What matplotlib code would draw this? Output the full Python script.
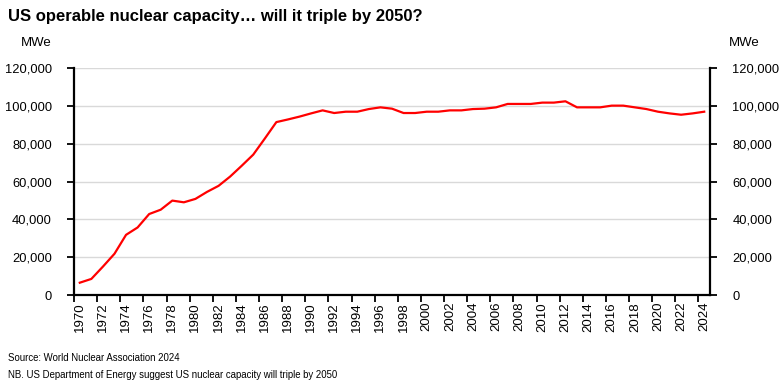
import matplotlib
matplotlib.use("Agg")
import matplotlib.pyplot as plt
from matplotlib.ticker import FixedLocator, FuncFormatter

years = list(range(1970, 2025))
capacity_mwe = [
    6500, 8500, 15000, 21800, 31800, 35700, 42800, 45100, 49900, 49000,
    50800, 54500, 57700, 62600, 68300, 74200, 82700, 91400, 92800, 94300,
    96000, 97600, 96200, 96900, 96900, 98300, 99200, 98500, 96200, 96200,
    96900, 96900, 97600, 97600, 98300, 98500, 99200, 101000, 101000, 101000,
    101700, 101700, 102400, 99200, 99200, 99200, 100100, 100100, 99200, 98300,
    96900, 96000, 95300, 96000, 96900,
]
y_ticks = [0, 20000, 40000, 60000, 80000, 100000, 120000]
x_labels = [str(y) for y in range(1970, 2025, 2)]

title = "US operable nuclear capacity\u2026 will it triple by 2050?"
unit = "MWe"
notes = ["Source: World Nuclear Association 2024",
         "NB. US Department of Energy suggest US nuclear capacity will triple by 2050"]

plt.rcParams["font.family"] = ["Liberation Sans", "DejaVu Sans"]

fig = plt.figure(figsize=(7.82, 3.88), dpi=100)
ax = fig.add_axes([74 / 782, 1 - 295 / 388, (710 - 74) / 782, (295 - 68) / 388])

ax.plot(years, capacity_mwe, color="#ff0000", lw=1.6, solid_joinstyle="round")

ax.set_xlim(1969.5, 2024.5)
ax.set_ylim(0, 120000)

ax.yaxis.set_major_locator(FixedLocator(y_ticks))
ax.yaxis.set_major_formatter(FuncFormatter(lambda v, p: f"{int(v):,}"))
ax.grid(axis="y", color="#d9d9d9", lw=1.0)
ax.set_axisbelow(True)

# x: ticks at category boundaries, labels at even years
ax.xaxis.set_major_locator(FixedLocator([1969.5 + 2 * i for i in range(28)]))
ax.xaxis.set_major_formatter(FuncFormatter(lambda v, p: ""))
ax.xaxis.set_minor_locator(FixedLocator(list(range(1970, 2025, 2))))
ax.set_xticklabels(x_labels, minor=True, rotation=90, fontsize=9.5)
ax.tick_params(axis="x", which="major", direction="out", length=5, width=1.3, color="black")
ax.tick_params(axis="x", which="minor", length=0, pad=5)

ax.tick_params(axis="y", which="major", direction="out", length=5, width=1.3,
               labelsize=9.3, pad=11, left=True, right=True, labelleft=True, labelright=True)

ax.spines["top"].set_visible(False)
for s in ["left", "right", "bottom"]:
    ax.spines[s].set_linewidth(1.6)
    ax.spines[s].set_color("black")

fig.text(8 / 782, 1 - 16 / 388, title, fontsize=12, fontweight="bold",
         va="center", ha="left")
fig.text(36 / 782, 1 - 43 / 388, unit, fontsize=9.5, va="center", ha="center")
fig.text(744 / 782, 1 - 43 / 388, unit, fontsize=9.5, va="center", ha="center")
fig.text(8 / 782, 1 - 358 / 388, notes[0], fontsize=6.9, va="center", ha="left")
fig.text(8 / 782, 1 - 375 / 388, notes[1], fontsize=6.9, va="center", ha="left")

fig.savefig("out.png", dpi=100)
